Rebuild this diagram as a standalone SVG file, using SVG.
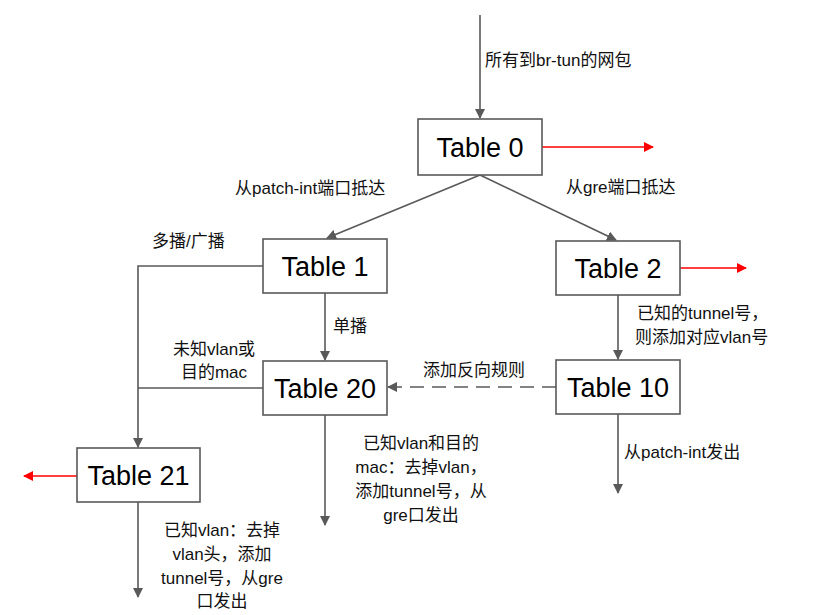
<svg xmlns="http://www.w3.org/2000/svg" width="839" height="615" viewBox="0 0 839 615">
<style>
.box{fill:#fff;stroke:#595959;stroke-width:1.6}
.t{font-family:"Liberation Sans","Noto Sans CJK SC",sans-serif;font-size:27px;fill:#000;text-anchor:middle}
.l{font-family:"Liberation Sans","Noto Sans CJK SC",sans-serif;font-size:17px;fill:#111}
.c{stroke:#595959;stroke-width:1.6;fill:none}
.r{stroke:#ff0000;stroke-width:1.6;fill:none}
</style>
<defs>
<marker id="ag" markerWidth="10" markerHeight="10" refX="9" refY="5" orient="auto" markerUnits="userSpaceOnUse"><path d="M0,0 L10,5 L0,10 Z" fill="#595959"/></marker>
<marker id="ar" markerWidth="10" markerHeight="10" refX="9" refY="5" orient="auto" markerUnits="userSpaceOnUse"><path d="M0,0 L10,5 L0,10 Z" fill="#ff0000"/></marker>
</defs>
<rect width="839" height="615" fill="#fff"/>
<g id="connectors">
<path class="c" d="M480,15 V118" marker-end="url(#ag)"/>
<path class="r" d="M542,147 H653" marker-end="url(#ar)"/>
<path class="c" d="M480,175 L327,238" marker-end="url(#ag)"/>
<path class="c" d="M480,175 L616,240" marker-end="url(#ag)"/>
<path class="r" d="M680,268 H746" marker-end="url(#ar)"/>
<path class="c" d="M325,293 V360" marker-end="url(#ag)"/>
<path class="c" d="M618,295 V359" marker-end="url(#ag)"/>
<path class="c" d="M556,387 H388" stroke-dasharray="14,8" marker-end="url(#ag)"/>
<path class="c" d="M263,266 H138 V447" marker-end="url(#ag)"/>
<path class="c" d="M263,388 H138"/>
<path class="c" d="M325,415 V525" marker-end="url(#ag)"/>
<path class="c" d="M618,414 V493" marker-end="url(#ag)"/>
<path class="c" d="M138,502 V597" marker-end="url(#ag)"/>
<path class="r" d="M77,476 H24" marker-end="url(#ar)"/>
</g>
<g id="table0"><rect class="box" x="418" y="119" width="124" height="56"/><text class="t" x="480" y="157">Table 0</text></g>
<g id="table1"><rect class="box" x="263" y="239" width="124" height="54"/><text class="t" x="325" y="276">Table 1</text></g>
<g id="table2"><rect class="box" x="556" y="241" width="124" height="54"/><text class="t" x="618" y="278">Table 2</text></g>
<g id="table20"><rect class="box" x="263" y="361" width="124" height="54"/><text class="t" x="325" y="398">Table 20</text></g>
<g id="table10"><rect class="box" x="556" y="360" width="124" height="54"/><text class="t" x="618" y="397">Table 10</text></g>
<g id="table21"><rect class="box" x="77" y="448" width="123" height="54"/><text class="t" x="138.5" y="485">Table 21</text></g>
<g id="labels">
<text class="l" x="485" y="66">所有到br-tun的网包</text>
<text class="l" x="235" y="194">从patch-int端口抵达</text>
<text class="l" x="566" y="193">从gre端口抵达</text>
<text class="l" x="152" y="247">多播/广播</text>
<text class="l" x="333" y="332">单播</text>
<g text-anchor="middle">
<text class="l" x="214" y="355">未知vlan或</text>
<text class="l" x="214" y="378">目的mac</text>
</g>
<text class="l" x="423" y="376">添加反向规则</text>
<text class="l" x="637" y="319">已知的tunnel号，</text>
<text class="l" x="635" y="343">则添加对应vlan号</text>
<text class="l" x="624" y="458">从patch-int发出</text>
<g text-anchor="middle">
<text class="l" x="421" y="449">已知vlan和目的</text>
<text class="l" x="421" y="473">mac：去掉vlan，</text>
<text class="l" x="421" y="497">添加tunnel号，从</text>
<text class="l" x="421" y="521">gre口发出</text>
<text class="l" x="222" y="536">已知vlan：去掉</text>
<text class="l" x="222" y="560">vlan头，添加</text>
<text class="l" x="222" y="584">tunnel号，从gre</text>
<text class="l" x="222" y="607">口发出</text>
</g>
</g>
</svg>
